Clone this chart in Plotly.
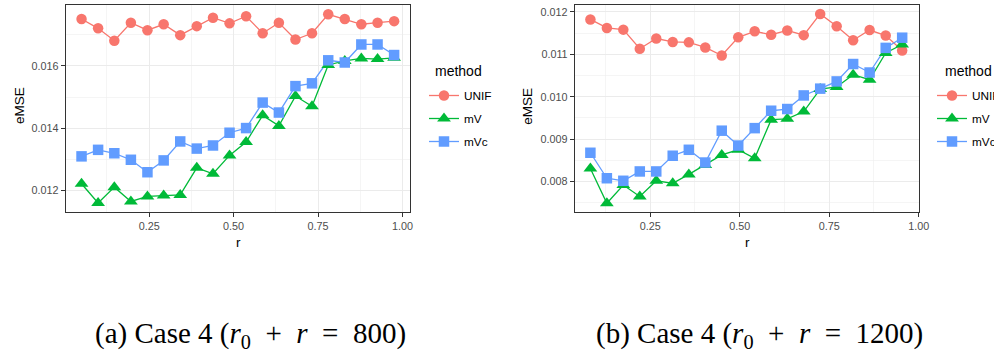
import plotly.graph_objects as go

# ---------------- data ----------------
methods = ["UNIF", "mV", "mVc"]

r_a = [0.050, 0.099, 0.147, 0.196, 0.245, 0.293, 0.342, 0.391, 0.439, 0.488,
       0.537, 0.586, 0.634, 0.683, 0.732, 0.780, 0.829, 0.878, 0.926, 0.975]
unif_a = [0.01751, 0.01721, 0.01681, 0.01739, 0.01715, 0.01734, 0.01699, 0.01728, 0.01755, 0.01737,
          0.01760, 0.01705, 0.01739, 0.01685, 0.01705, 0.01766, 0.01751, 0.01734, 0.01739, 0.01744]
mv_a = [0.01221, 0.01159, 0.01210, 0.01164, 0.01180, 0.01183, 0.01185, 0.01272, 0.01253, 0.01312,
        0.01355, 0.01441, 0.01407, 0.01503, 0.01470, 0.01603, 0.01616, 0.01624, 0.01622, 0.01626]
mvc_a = [0.01309, 0.01330, 0.01319, 0.01298, 0.01258, 0.01296, 0.01357, 0.01334, 0.01344, 0.01385,
         0.01400, 0.01482, 0.01450, 0.01535, 0.01544, 0.01618, 0.01611, 0.01669, 0.01669, 0.01635]

r_b = [0.083, 0.129, 0.175, 0.221, 0.267, 0.313, 0.358, 0.404, 0.450, 0.496,
       0.542, 0.588, 0.633, 0.679, 0.725, 0.771, 0.817, 0.863, 0.908, 0.954]
unif_b = [0.01182, 0.01162, 0.01158, 0.01113, 0.01137, 0.01129, 0.01128, 0.01116, 0.01097, 0.01140,
          0.01154, 0.01146, 0.01156, 0.01145, 0.01195, 0.01166, 0.01133, 0.01157, 0.01144, 0.01109]
mv_b = [0.00831, 0.00749, 0.00792, 0.00765, 0.00802, 0.00796, 0.00817, 0.00839, 0.00863, 0.00875,
        0.00855, 0.00946, 0.00948, 0.00965, 0.01018, 0.01023, 0.01052, 0.01040, 0.01103, 0.01123]
mvc_b = [0.00868, 0.00808, 0.00802, 0.00824, 0.00824, 0.00861, 0.00875, 0.00845, 0.00920, 0.00885,
         0.00926, 0.00967, 0.00971, 0.01003, 0.01019, 0.01036, 0.01077, 0.01057, 0.01115, 0.01139]

x_tickvals = [0.25, 0.50, 0.75, 1.00]
x_ticktext = ["0.25", "0.50", "0.75", "1.00"]
ya_tickvals = [0.012, 0.014, 0.016]
ya_ticktext = ["0.012", "0.014", "0.016"]
yb_tickvals = [0.008, 0.009, 0.010, 0.011, 0.012]
yb_ticktext = ["0.008", "0.009", "0.010", "0.011", "0.012"]

SP = "\u00a0\u00a0"
captions = ["(a) Case 4 (<i>r</i><sub>0</sub>" + SP + "+" + SP + "<i>r</i>" + SP + "=" + SP + "800)",
            "(b) Case 4 (<i>r</i><sub>0</sub>" + SP + "+" + SP + "<i>r</i>" + SP + "=" + SP + "1200)"]

# ---------------- style ----------------
colors = {"UNIF": "#F8766D", "mV": "#00BA38", "mVc": "#619CFF"}
symbols = {"UNIF": "circle", "mV": "triangle-up", "mVc": "square"}
msizes = {"UNIF": 10.5, "mV": 12, "mVc": 10.5}
LW = 1.3
# the canvas is a little wider than the 994px window so the right legend
# is cut at the window edge, as in the reference
W, H = 1060, 354
SANS = "Liberation Sans, Arial, sans-serif"


def px(x):
    return x / W


def py(y):
    return 1 - y / H


fig = go.Figure()

panels = [
    ("x", "y", "legend", r_a, {"UNIF": unif_a, "mV": mv_a, "mVc": mvc_a}),
    ("x2", "y2", "legend2", r_b, {"UNIF": unif_b, "mV": mv_b, "mVc": mvc_b}),
]

for xa, ya, leg, r, data in panels:
    for m in methods:
        fig.add_trace(go.Scatter(x=r, y=data[m], mode="lines",
                                 line=dict(color=colors[m], width=LW),
                                 xaxis=xa, yaxis=ya, showlegend=False, hoverinfo="skip"))
    for m in methods:
        fig.add_trace(go.Scatter(x=r, y=data[m], mode="markers", name=m,
                                 marker=dict(symbol=symbols[m], size=msizes[m], color=colors[m],
                                             line=dict(width=0)),
                                 xaxis=xa, yaxis=ya, showlegend=False))
    for m in methods:
        fig.add_trace(go.Scatter(x=[None], y=[None], mode="lines+markers", name=m,
                                 line=dict(color=colors[m], width=LW),
                                 marker=dict(symbol=symbols[m], size=msizes[m], color=colors[m],
                                             line=dict(width=0)),
                                 xaxis=xa, yaxis=ya, legend=leg, legendgroup=leg + m,
                                 showlegend=True))

axis_common = dict(
    showgrid=True, gridcolor="#EBEBEB", gridwidth=1.1, zeroline=False,
    showline=True, mirror=True, linecolor="#333333", linewidth=1.2,
    ticks="outside", ticklen=4, tickcolor="#333333", tickwidth=1,
    tickfont=dict(family=SANS, size=10.8, color="#4D4D4D"),
    tickmode="array", fixedrange=True,
)

y_dom = [py(212), py(5)]

fig.update_layout(
    width=W, height=H,
    margin=dict(l=0, r=0, t=0, b=0, autoexpand=False),
    paper_bgcolor="white", plot_bgcolor="white",
    font=dict(family=SANS, color="black"),
    xaxis=dict(axis_common, domain=[px(66), px(410)], range=[0.004, 1.022],
               tickvals=x_tickvals, ticktext=x_ticktext, anchor="y",
               minor=dict(tickmode="linear", tick0=0.125, dtick=0.25, showgrid=True,
                          gridcolor="#EFEFEF", gridwidth=0.6, ticks="")),
    yaxis=dict(axis_common, domain=y_dom, range=[0.01130, 0.01796],
               tickvals=ya_tickvals, ticktext=ya_ticktext, anchor="x",
               minor=dict(tickmode="linear", tick0=0.011, dtick=0.002, showgrid=True,
                          gridcolor="#EFEFEF", gridwidth=0.6, ticks="")),
    xaxis2=dict(axis_common, domain=[px(575), px(919)], range=[0.040, 1.001],
                tickvals=x_tickvals, ticktext=x_ticktext, anchor="y2",
                minor=dict(tickmode="linear", tick0=0.125, dtick=0.25, showgrid=True,
                           gridcolor="#EFEFEF", gridwidth=0.6, ticks="")),
    yaxis2=dict(axis_common, domain=y_dom, range=[0.007285, 0.01216],
                tickvals=yb_tickvals, ticktext=yb_ticktext, anchor="x2",
                minor=dict(tickmode="linear", tick0=0.0075, dtick=0.001, showgrid=True,
                           gridcolor="#EFEFEF", gridwidth=0.6, ticks="")),
    legend=dict(x=px(459 - 35), y=py(81), xanchor="left", yanchor="top",
                bgcolor="rgba(0,0,0,0)", borderwidth=0, tracegroupgap=4,
                font=dict(family=SANS, size=11.8, color="black"), itemclick=False),
    legend2=dict(x=px(967 - 35), y=py(81), xanchor="left", yanchor="top",
                 bgcolor="rgba(0,0,0,0)", borderwidth=0, tracegroupgap=4,
                 font=dict(family=SANS, size=11.8, color="black"), itemclick=False),
    showlegend=True,
)

annotations = []
# axis titles
for cx in (19, 526.7):
    annotations.append(dict(text="eMSE", x=px(cx), y=py(106), xref="paper", yref="paper",
                            showarrow=False, textangle=-90, xanchor="center", yanchor="middle",
                            font=dict(family=SANS, size=13.5, color="black")))
for cx in (238, 747):
    annotations.append(dict(text="r", x=px(cx), y=py(243), xref="paper", yref="paper",
                            showarrow=False, xanchor="center", yanchor="middle",
                            font=dict(family=SANS, size=13.5, color="black")))
# legend titles
for lx in (433, 942.7):
    annotations.append(dict(text="method", x=px(lx), y=py(71), xref="paper", yref="paper",
                            showarrow=False, xanchor="left", yanchor="middle",
                            font=dict(family=SANS, size=14, color="black")))
# captions
for cap, cx in zip(captions, (250.5, 759)):
    annotations.append(dict(text=cap, x=px(cx), y=py(335), xref="paper", yref="paper",
                            showarrow=False, xanchor="center", yanchor="middle",
                            font=dict(family="Liberation Serif, Times New Roman, serif",
                                      size=29, color="black")))

fig.update_layout(annotations=annotations)

fig.write_html("out.html",
               config={"displayModeBar": False, "staticPlot": True},
               post_script="document.body.style.margin='0';document.body.style.overflow='hidden';")
